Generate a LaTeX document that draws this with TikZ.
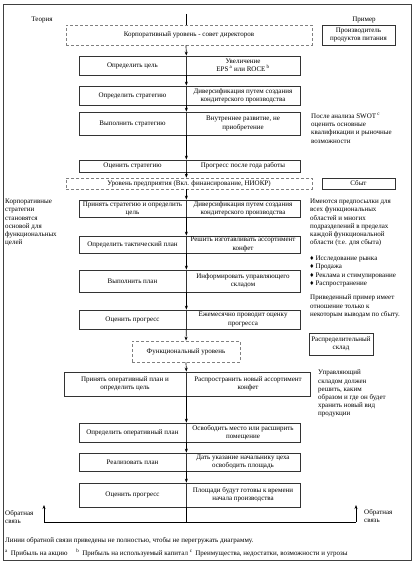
\documentclass[tikz,border=0pt]{standalone}
\usepackage{fontspec}
\setmainfont{Liberation Serif}
\usetikzlibrary{arrows.meta}

\begin{document}
\begin{tikzpicture}[x=1pt, y=-1pt, font=\fontsize{7}{8.2}\selectfont,
  >={Stealth[length=4pt,width=3pt]},
  box/.style={draw=black!80, line width=0.7pt, inner sep=1pt, align=center},
  lvl/.style={draw=black!50, densely dashed, line width=0.6pt, inner sep=1pt, align=center},
  note/.style={anchor=north west, align=left, inner sep=0pt}]
  \useasboundingbox (0,0) rectangle (418,564);
  \draw[black!75, line width=0.6pt] (3,4) rectangle (411,560);

  % headings
  \node (theory) at (42,20) {Теория};
  \node (exlab) at (364,20) {Пример};

  % levels
  \node[lvl, minimum width=246, minimum height=20] (corp) at (189,35) {Корпоративный уровень - совет директоров};
  \node[lvl, minimum width=246, minimum height=11] (ent) at (189,183.5) {Уровень предприятия (Вкл. финансирование, НИОКР)};
  \node[lvl, minimum width=108, minimum height=21] (func) at (186,351.5) {Функциональный уровень};

  % example column
  \node[box, minimum width=73, minimum height=20] (prod) at (358.5,35) {Производитель\\продуктов питания};
  \node[box, minimum width=73, minimum height=11] (sales) at (358.5,183.5) {Сбыт};
  \node[box, minimum width=64, minimum height=22] (dist) at (341,344) {Распределительный\\склад};

  % corporate rows
  \node[box, minimum width=107, minimum height=19] (r1l) at (132.5,65.5) {Определить цель};
  \node[box, minimum width=114, minimum height=19] (r1r) at (243,65.5) {Увеличение\\EPS\,\textsuperscript{a} или ROCE\,\textsuperscript{b}};
  \node[box, minimum width=107, minimum height=19] (r2l) at (132.5,95.5) {Определить стратегию};
  \node[box, minimum width=114, minimum height=19] (r2r) at (243,95.5) {Диверсификация путем создания\\кондитерского производства};
  \node[box, minimum width=107, minimum height=23] (r3l) at (132.5,123.5) {Выполнить стратегию};
  \node[box, minimum width=114, minimum height=23] (r3r) at (243,123.5) {Внутреннее развитие, не\\приобретение};
  \node[box, minimum width=107, minimum height=12] (r4l) at (132.5,166) {Оценить стратегию};
  \node[box, minimum width=114, minimum height=12] (r4r) at (243,166) {Прогресс после года работы};

  % enterprise rows
  \node[box, minimum width=107, minimum height=17] (r5l) at (132.5,208.5) {Принять стратегию и определить\\цель};
  \node[box, minimum width=114, minimum height=17] (r5r) at (243,208.5) {Диверсификация путем создания\\кондитерского производства};
  \node[box, minimum width=107, minimum height=17] (r6l) at (132.5,244.5) {Определить тактический план};
  \node[box, minimum width=114, minimum height=17] (r6r) at (243,244.5) {Решить изготавливать ассортимент\\конфет};
  \node[box, minimum width=107, minimum height=22] (r7l) at (132.5,281) {Выполнить план};
  \node[box, minimum width=114, minimum height=22] (r7r) at (243,281) {Информировать управляющего\\складом};
  \node[box, minimum width=107, minimum height=19] (r8l) at (132.5,319.5) {Оценить прогресс};
  \node[box, minimum width=114, minimum height=19] (r8r) at (243,319.5) {Ежемесячно проводит оценку\\прогресса};

  % functional rows
  \node[box, minimum width=122, minimum height=24] (r9l) at (125,384) {Принять оперативный план и\\определить цель};
  \node[box, minimum width=124, minimum height=24] (r9r) at (248,384) {Распространить новый ассортимент\\конфет};
  \node[box, minimum width=107, minimum height=19] (r10l) at (132.5,432.5) {Определить оперативный план};
  \node[box, minimum width=114, minimum height=19] (r10r) at (243,432.5) {Освободить место или расширить\\помещение};
  \node[box, minimum width=107, minimum height=18] (r11l) at (132.5,462) {Реализовать план};
  \node[box, minimum width=114, minimum height=18] (r11r) at (243,462) {Дать указание начальнику цеха\\освободить площадь};
  \node[box, minimum width=107, minimum height=24] (r12l) at (132.5,495) {Оценить прогресс};
  \node[box, minimum width=114, minimum height=24] (r12r) at (243,495) {Площади будут готовы к времени\\начала производства};

  % notes
  \node[note] (swot) at (311,113) {После анализа SWOT\,\textsuperscript{c}\\оценить основные\\квалификации и рыночные\\возможности};
  \node[note] (corpnote) at (5,199) {Корпоративные\\стратегии\\становятся\\основой для\\функциональных\\целей};
  \node[note] (prenote) at (310,199) {Имеются предпосылки для\\всех функциональных\\областей и многих\\подразделений в пределах\\каждой функциональной\\области (т.е. для сбыта)};
  \node[note] (bullets) at (310,256) {♦ Исследование рынка\\♦ Продажа\\♦ Реклама и стимулирование\\♦ Распространение};
  \node[note] (partnote) at (310,295) {Приведенный пример имеет\\отношение только к\\некоторым выводам по сбыту.};
  \node[note] (mgrnote) at (318,370) {Управляющий\\складом должен\\решить, каким\\образом и где он будет\\хранить новый вид\\продукции};
  \node[note] (fbltext) at (5,510) {Обратная\\связь};
  \node[note] (fbrtext) at (364,509) {Обратная\\связь};
  \node[note] (linesnote) at (5,537) {Линии обратной связи приведены не полностью, чтобы не перегружать диаграмму.};
  \node[note] (foot) at (5,549) {\textsuperscript{a}\, Прибыль на акцию \quad \textsuperscript{b}\, Прибыль на используемый капитал \textsuperscript{c}\, Преимущества, недостатки, возможности и угрозы};

  % main line
  \coordinate (top) at (186,14);
  \draw[line width=0.7pt] (top) -- (top |- corp.north);
  \draw[->, line width=0.7pt] (top |- corp.south) -- (r1l.north east);
  \draw[->, line width=0.7pt] (r4l.south east) -- (r4l.south east |- ent.north);
  \draw[->, line width=0.7pt] (r4l.south east |- ent.south) -- (r5l.north east);
  \draw[->, line width=0.7pt] (r8l.south east) -- (func.north);
  \draw[->, line width=0.7pt] (func.south) -- (r9l.north east);
  \foreach \a/\b in {r1l/r2l, r2l/r3l, r3l/r4l, r5l/r6l, r6l/r7l, r7l/r8l, r9l/r10l, r10l/r11l, r11l/r12l}
    \draw[->, line width=0.7pt] (\a.south east) -- (\b.north east);

  % feedback
  \coordinate (fbL) at (44,522);
  \coordinate (fbR) at (356,522);
  \coordinate (fbLtop) at (44,505);
  \coordinate (fbRtop) at (356,505);
  \draw[line width=0.7pt] (r12l.south east) -- (r12l.south east |- fbL);
  \draw[line width=0.7pt] (fbL) -- (fbR);
  \draw[->, line width=0.7pt] (fbL) -- (fbLtop);
  \draw[->, line width=0.7pt] (fbR) -- (fbRtop);
\end{tikzpicture}
\end{document}
